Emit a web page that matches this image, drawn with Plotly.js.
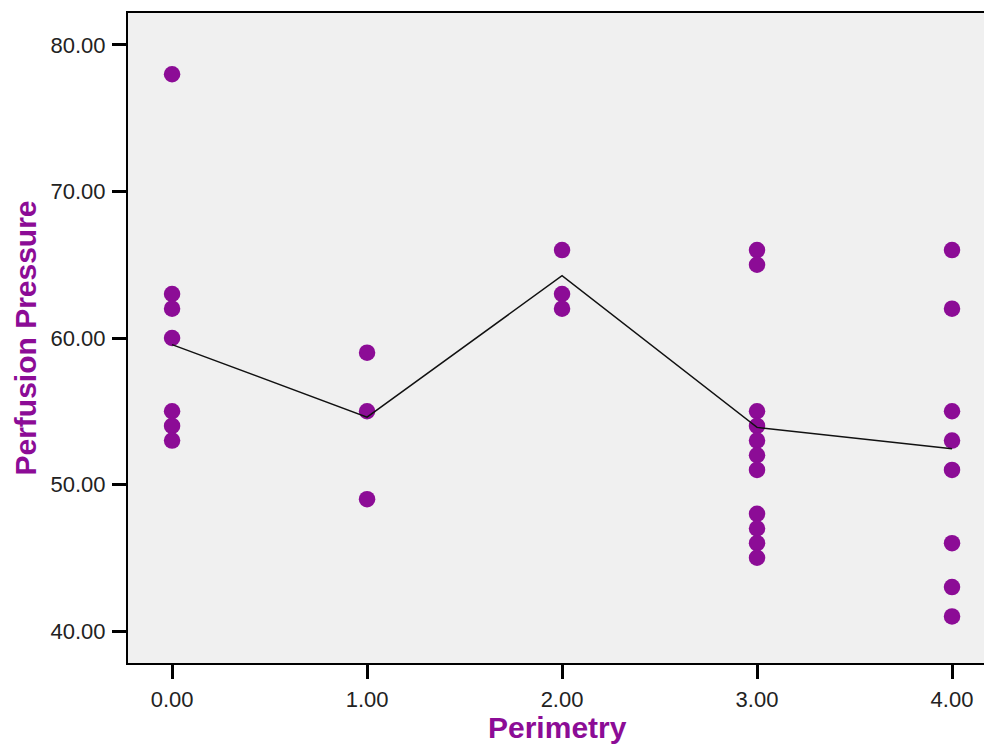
<!DOCTYPE html>
<html>
<head>
<meta charset="utf-8">
<script src="https://cdn.plot.ly/plotly-3.0.1.min.js"></script>
<style>
  html, body { margin: 0; padding: 0; background: #ffffff; overflow: hidden; }
  #chart { width: 984px; height: 746px; }
</style>
</head>
<body>
<div id="chart"></div>
<script>
var perimetry = [0, 1, 2, 3, 4];
var pressure0 = [78, 63, 62, 60, 55, 54, 53];
var pressure1 = [59, 55, 49];
var pressure2 = [66, 63, 62];
var pressure3 = [66, 65, 55, 54, 53, 52, 51, 48, 47, 46, 45];
var pressure4 = [66, 62, 55, 53, 51, 46, 43, 41];
// interpolation line through group means
var meanLine = [59.55, 54.6, 64.25, 53.9, 52.45];
var xTickVals = [0, 1, 2, 3, 4];
var xTickText = ['0.00', '1.00', '2.00', '3.00', '4.00'];
var yTickVals = [40, 50, 60, 70, 80];
var yTickText = ['40.00', '50.00', '60.00', '70.00', '80.00'];
var xTitle = 'Perimetry';
var yTitle = 'Perfusion Pressure';

var groups = [pressure0, pressure1, pressure2, pressure3, pressure4];
var px = [], py = [];
groups.forEach(function (g, i) {
  g.forEach(function (v) { px.push(perimetry[i]); py.push(v); });
});

var purple = '#8c0c96';

var data = [
  {
    type: 'scatter', mode: 'markers', x: px, y: py,
    marker: { color: purple, size: 16.5, line: { width: 0 } },
    hoverinfo: 'x+y', showlegend: false
  },
  {
    type: 'scatter', mode: 'lines', x: perimetry, y: meanLine,
    line: { color: '#111111', width: 1.5 },
    hoverinfo: 'x+y', showlegend: false
  }
];

var tickFont = { family: 'Liberation Sans, Arial, sans-serif', size: 22, color: '#222222' };

var layout = {
  width: 984, height: 746,
  margin: { l: 128, r: 0, t: 13, b: 83, pad: 0 },
  paper_bgcolor: '#ffffff',
  plot_bgcolor: '#f0f0f0',
  showlegend: false,
  xaxis: {
    range: [-0.226, 4.164],
    tickvals: xTickVals, ticktext: xTickText,
    tickfont: tickFont,
    ticks: 'outside', ticklen: 14, tickwidth: 3, tickcolor: '#000000',
    showline: true, linecolor: '#000000', linewidth: 2, mirror: true,
    showgrid: false, zeroline: false,
    ticklabelstandoff: 2
  },
  yaxis: {
    range: [37.82, 82.18],
    tickvals: yTickVals, ticktext: yTickText,
    tickfont: tickFont,
    ticks: 'outside', ticklen: 14, tickwidth: 3, tickcolor: '#000000',
    showline: true, linecolor: '#000000', linewidth: 2, mirror: false,
    showgrid: false, zeroline: false,
    ticklabelstandoff: 2,
    title: { text: yTitle, font: { family: 'Liberation Sans, Arial, sans-serif', size: 30, color: purple, weight: 'bold' }, standoff: 5 }
  },
  annotations: [{
    text: xTitle, showarrow: false,
    xref: 'paper', yref: 'paper', x: 0.502, y: -0.1265,
    xanchor: 'center', yanchor: 'bottom', borderpad: 0,
    font: { family: 'Liberation Sans, Arial, sans-serif', size: 30, color: purple, weight: 'bold' }
  }]
};

Plotly.newPlot('chart', data, layout, { displayModeBar: false, staticPlot: true });
</script>
</body>
</html>
